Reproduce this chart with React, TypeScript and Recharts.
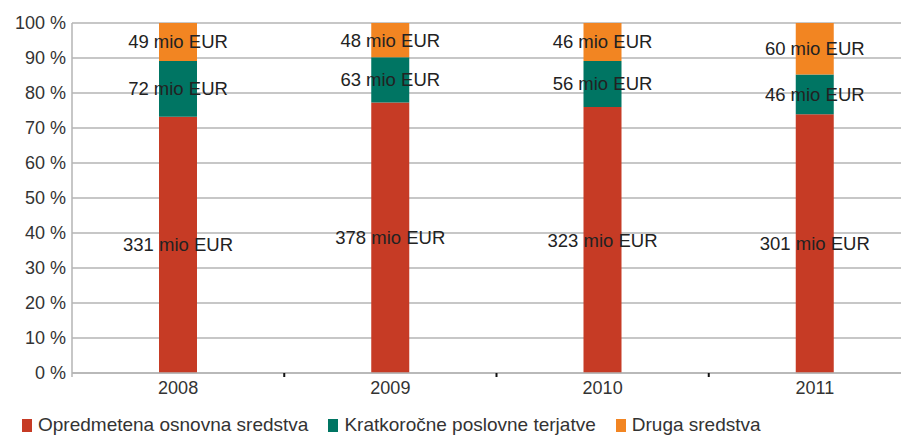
import { Bar, BarChart, CartesianGrid, LabelList, Legend, XAxis, YAxis } from 'recharts'

const years = ['2008', '2009', '2010', '2011']
const fixedAssets = [331, 378, 323, 301]
const receivables = [72, 63, 56, 46]
const otherAssets = [49, 48, 46, 60]
const yTicks = [0, 0.1, 0.2, 0.3, 0.4, 0.5, 0.6, 0.7, 0.8, 0.9, 1]

const seriesNames = ['Opredmetena osnovna sredstva', 'Kratkoročne poslovne terjatve', 'Druga sredstva']
const colors = ['#c63b25', '#007563', '#f28522']

const rows = years.map((y, i) => ({
  year: y,
  fixed: fixedAssets[i],
  recv: receivables[i],
  other: otherAssets[i],
}))

const FONT = '"Liberation Sans", Arial, sans-serif'
const GRID = '#b4b4b4'

// centred label without wrapping
const MioLabel = (props: any) => {
  const { x, y, width, height, value } = props
  return (
    <text
      x={x + width / 2}
      y={y + height / 2}
      textAnchor="middle"
      dominantBaseline="central"
      fill="#222"
      fontSize={18.5}
      fontFamily={FONT}
    >
      {`${value} mio EUR`}
    </text>
  )
}

const YearTick = (props: any) => {
  const { x, y, payload, visibleTicksCount } = props
  const half = payload?.offset ?? 106
  const last = payload.index === (visibleTicksCount ?? years.length) - 1
  return (
    <g>
      {payload.index === 0 && <line x1={x - half} x2={x - half} y1={y - 8} y2={y - 4} stroke={GRID} strokeWidth={1.5} />}
      {!last && <line x1={x + half} x2={x + half} y1={y - 8} y2={y - 4} stroke="#111" strokeWidth={2} />}
      <text x={x} y={y} dy="0.71em" textAnchor="middle" fill="#333" fontSize={18} fontFamily={FONT}>
        {payload.value}
      </text>
    </g>
  )
}

const LegendBox = () => (
  <div style={{ display: 'flex', paddingLeft: 14, fontFamily: FONT, fontSize: 19, color: '#333', height: 24, alignItems: 'center' }}>
    {seriesNames.map((n, i) => (
      <div key={n} style={{ display: 'flex', alignItems: 'center', marginRight: 20 }}>
        <span style={{ width: 10, height: 13, background: colors[i], marginRight: 6, display: 'inline-block' }} />
        <span>{n}</span>
      </div>
    ))}
  </div>
)

export default function App() {
  return (
    <div style={{ width: 901, height: 427, overflow: 'hidden' }}>
      <BarChart
        width={913}
        height={427}
        data={rows}
        stackOffset="expand"
        margin={{ top: 15, right: 0, left: 0, bottom: 0 }}
        barSize={38}
      >
        <CartesianGrid vertical={false} stroke={GRID} strokeWidth={1.3} />
        <XAxis
          dataKey="year"
          tickLine={false}
          axisLine={{ stroke: GRID, strokeWidth: 1.5 }}
          height={38}
          tick={<YearTick />}
          interval={0}
        />
        <YAxis
          ticks={yTicks}
          domain={[0, 1]}
          tickFormatter={(v: number) => `${Math.round(v * 100)} %`}
          tickLine={false}
          axisLine={{ stroke: GRID, strokeWidth: 1.5 }}
          width={64}
          tickMargin={0}
          tick={{ fill: '#333', fontSize: 18, fontFamily: FONT }}
          interval={0}
        />
        <Legend verticalAlign="bottom" wrapperStyle={{ left: 0, bottom: -2, width: 901 }} content={<LegendBox />} />
        <Bar dataKey="fixed" stackId="s" fill={colors[0]} isAnimationActive={false}>
          <LabelList dataKey="fixed" content={<MioLabel />} />
        </Bar>
        <Bar dataKey="recv" stackId="s" fill={colors[1]} isAnimationActive={false}>
          <LabelList dataKey="recv" content={<MioLabel />} />
        </Bar>
        <Bar dataKey="other" stackId="s" fill={colors[2]} isAnimationActive={false}>
          <LabelList dataKey="other" content={<MioLabel />} />
        </Bar>
      </BarChart>
    </div>
  )
}
